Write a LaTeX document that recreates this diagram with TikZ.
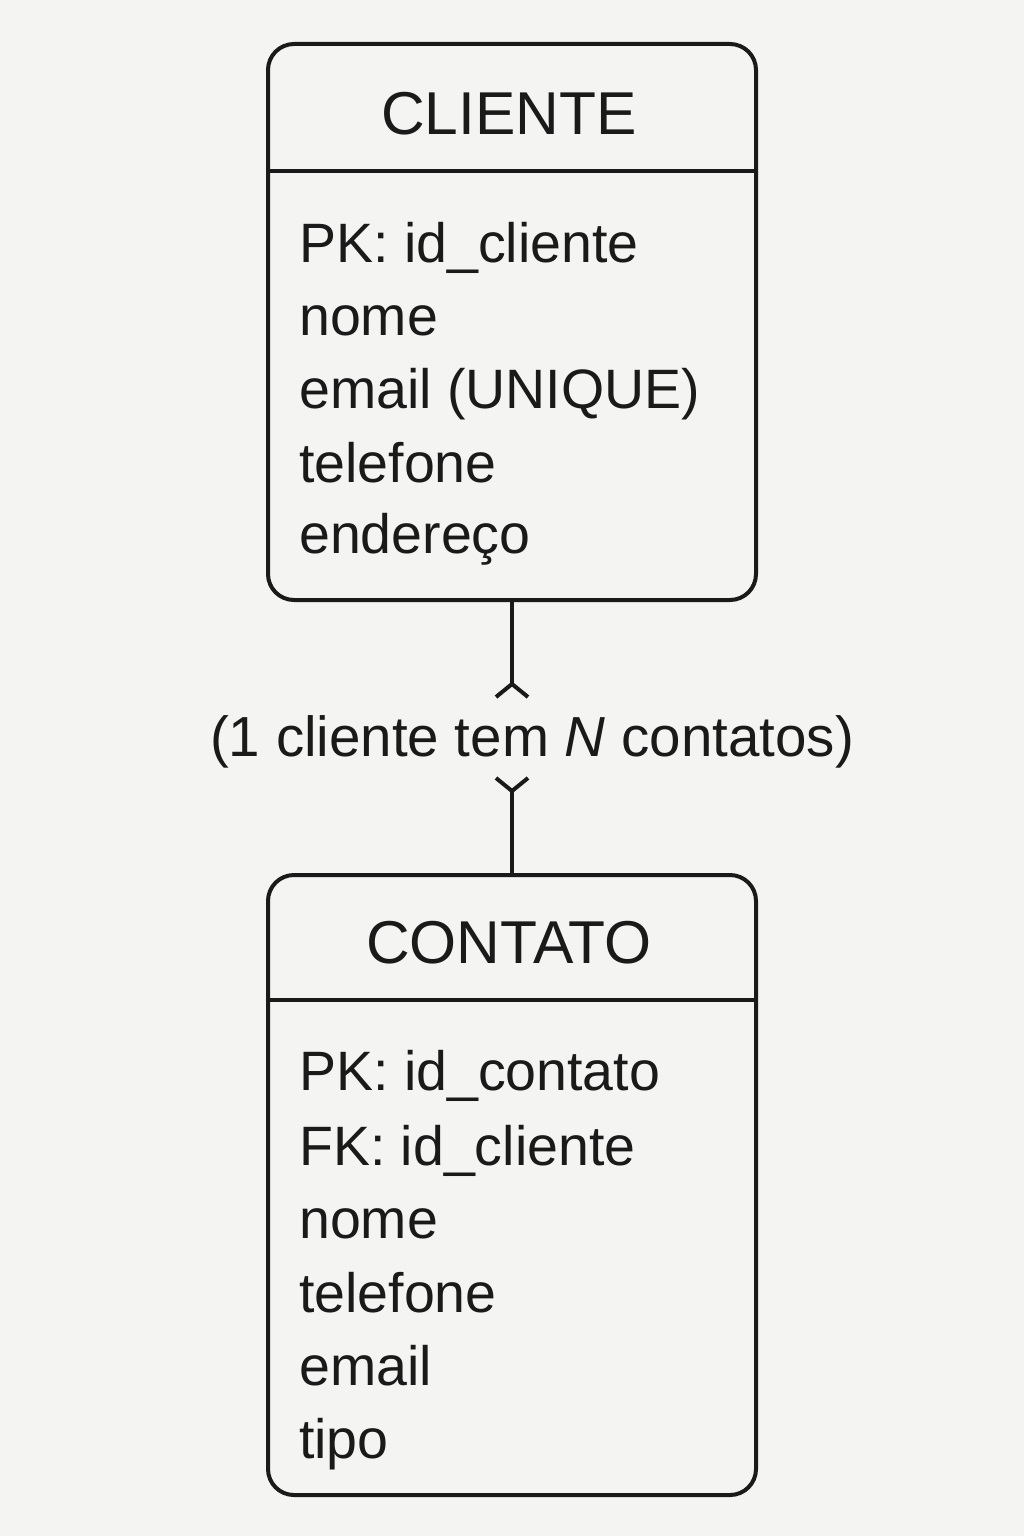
\documentclass[tikz,border=0pt]{standalone}
\usepackage{fontspec}
\setmainfont{Liberation Sans}
\definecolor{bg}{HTML}{F4F4F2}
\definecolor{ink}{HTML}{1A1A1A}
\begin{document}
\begin{tikzpicture}[x=1pt,y=-1pt,
  entity/.style={draw=ink,line width=4pt,rounded corners=26pt,fill=bg,minimum width=488pt,inner sep=0pt},
  title/.style={anchor=base,text=ink,font=\fontsize{60.5}{62}\selectfont,inner sep=0pt},
  attr/.style={anchor=base west,text=ink,font=\fontsize{55.5}{58}\selectfont,inner sep=0pt},
  conn/.style={draw=ink,line width=4pt},
  lbl/.style={anchor=base,text=ink,font=\fontsize{56.5}{58}\selectfont,inner sep=0pt}]
\fill[bg] (0,0) rectangle (1024,1536);
\useasboundingbox (0,0) rectangle (1024,1536);
% CLIENTE
\node[entity,minimum height=556pt] (cliente) at (512,322) {};
\draw[conn] (cliente.west |- 0,171) -- (cliente.east |- 0,171);
\node[title] (tcli) at (509,135) {CLIENTE};
\node[attr] (c1) at (299,262) {PK: id\_cliente};
\node[attr] (c2) at (299,335) {nome};
\node[attr] (c3) at (299,408) {email (UNIQUE)};
\node[attr] (c4) at (299,482) {telefone};
\node[attr] (c5) at (299,553) {endereço};
% CONTATO
\node[entity,minimum height=620pt] (contato) at (512,1185) {};
\draw[conn] (contato.west |- 0,1000) -- (contato.east |- 0,1000);
\node[title] (tcon) at (509,963) {CONTATO};
\node[attr] (k1) at (299,1090) {PK: id\_contato};
\node[attr] (k2) at (299,1165) {FK: id\_cliente};
\node[attr] (k3) at (299,1238) {nome};
\node[attr] (k4) at (299,1312) {telefone};
\node[attr] (k5) at (299,1385) {email};
\node[attr] (k6) at (299,1458) {tipo};
% relationship
\node[lbl] (rel) at (532,756) {(1 cliente tem \textit{N} contatos)};
\coordinate (ua) at (512,684);
\coordinate (la) at (512,791);
\draw[conn] (cliente.south) -- (ua);
\draw[conn,line join=miter] (496,697) -- (ua) -- (528,697);
\draw[conn] (contato.north) -- (la);
\draw[conn,line join=miter] (496,778) -- (la) -- (528,778);
\end{tikzpicture}
\end{document}
